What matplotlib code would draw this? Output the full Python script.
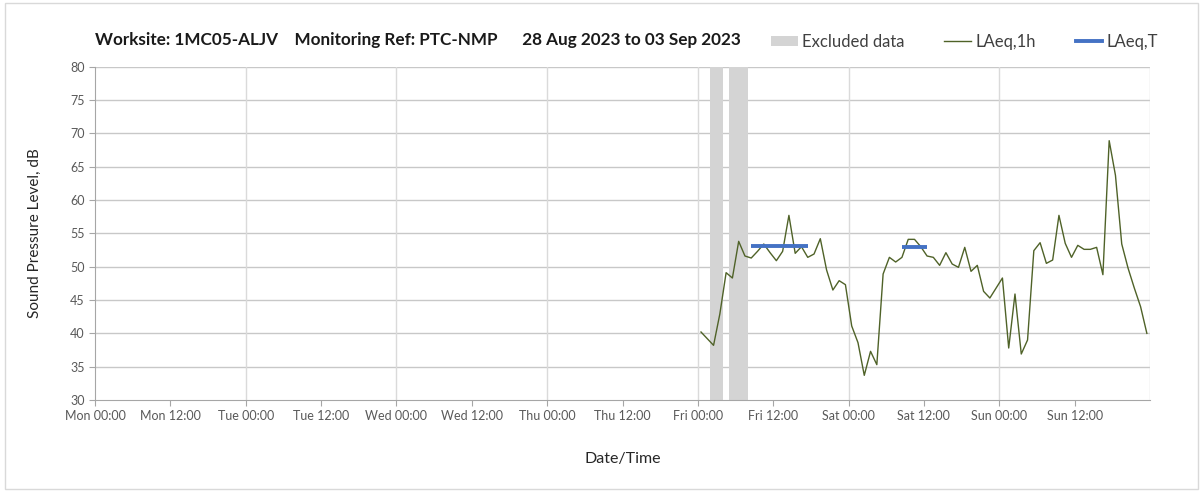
import numpy as np
import matplotlib.pyplot as plt
from matplotlib.patches import Patch, Rectangle
from matplotlib.lines import Line2D

plt.rcParams["font.family"] = ["Lato", "DejaVu Sans"]

# ============================================================
# DATA  (hours counted from Mon 00:00)
# ============================================================
day_names = ["Mon", "Tue", "Wed", "Thu", "Fri", "Sat", "Sun"]
tick_hours = np.arange(0, 168, 12)
tick_labels = [f"{day_names[h // 24]} {h % 24:02d}:00" for h in tick_hours]

# hourly LAeq,1h, Fri 00:30 .. Sun 23:30
laeq_1h_start = 96.5
laeq_1h = [
    40.2, 39.2, 38.2, 42.9, 49.1, 48.3, 53.8, 51.6, 51.3, 52.3, 53.4, 52.1,
    50.9, 52.3, 57.7, 52.0, 53.0, 51.4, 51.9, 54.2, 49.5, 46.5, 47.9, 47.3,
    41.1, 38.6, 33.7, 37.3, 35.3, 48.9, 51.4, 50.7, 51.4, 54.1, 54.1, 53.0,
    51.6, 51.4, 50.2, 52.1, 50.4, 49.9, 52.9, 49.3, 50.2, 46.3, 45.3, 46.8,
    48.3, 37.8, 45.9, 36.9, 39.0, 52.4, 53.6, 50.5, 51.0, 57.7, 53.5, 51.4,
    53.2, 52.6, 52.6, 52.9, 48.8, 68.9, 63.7, 53.4, 49.8, 46.8, 44.0, 40.0,
]
laeq_1h_t = laeq_1h_start + np.arange(len(laeq_1h))

# LAeq,T periods: (start, end, level)
laeq_T_start = [104.5, 128.5]
laeq_T_end = [113.5, 132.5]
laeq_T_level = [53.1, 52.9]

# excluded periods
excl_start = [98, 101]
excl_end = [100, 104]

# ============================================================
# PLOT
# ============================================================
fig = plt.figure(figsize=(12.03, 4.92), dpi=100)
ax = fig.add_axes([95 / 1203, 1 - 400 / 492, (1150 - 95) / 1203, (400 - 66.7) / 492])

for s, e in zip(excl_start, excl_end):
    ax.axvspan(s, e, color="#d4d4d4", lw=0, zorder=1)

ax.plot(laeq_1h_t, laeq_1h, color="#4f6228", lw=1.0, zorder=3)
for s, e, v in zip(laeq_T_start, laeq_T_end, laeq_T_level):
    ax.plot([s, e], [v, v], color="#4472c4", lw=2.8, solid_capstyle="butt", zorder=4)

ax.set_xlim(0, 168)
ax.set_ylim(30, 80)
ax.set_xticks(tick_hours)
ax.set_xticklabels(tick_labels)
ax.set_yticks(np.arange(30, 81, 5))
ax.tick_params(axis="both", labelsize=9, colors="#595959", length=4, color="#a6a6a6")

# gridlines: horizontal every 5 dB, vertical each midnight
for y in np.arange(35, 81, 5):
    ax.axhline(y, color="#c8c8c8", lw=1.0, zorder=0)
for x in np.arange(24, 169, 24):
    ax.axvline(x, color="#dadada", lw=1.0, zorder=0)

for side in ["top", "right"]:
    ax.spines[side].set_visible(False)
for side in ["left", "bottom"]:
    ax.spines[side].set_color("#a6a6a6")

ax.set_ylabel("Sound Pressure Level, dB", fontsize=11, color="#262626", labelpad=20)
ax.set_xlabel("Date/Time", fontsize=11.5, color="#262626", labelpad=21)

fig.text(95 / 1203, 1 - 40 / 492,
         "Worksite: 1MC05-ALJV    Monitoring Ref: PTC-NMP      28 Aug 2023 to 03 Sep 2023",
         fontsize=12.3, fontweight="bold", ha="left", va="center", color="#1a1a1a")

handles = [
    Patch(facecolor="#d4d4d4", edgecolor="none"),
    Line2D([], [], color="#4f6228", lw=1.0),
    Line2D([], [], color="#4472c4", lw=2.8),
]
fig.legend(handles, ["Excluded data", "LAeq,1h", "LAeq,T"], ncol=3,
           loc="center right", bbox_to_anchor=(1173 / 1203, 1 - 42 / 492),
           frameon=False, fontsize=12, handlelength=1.6, handleheight=0.6,
           handletextpad=0.25, columnspacing=2.4, labelcolor="#404040")

fig.add_artist(Rectangle((5 / 1203, 3 / 492), 1193 / 1203, 486 / 492,
                         transform=fig.transFigure, fill=False,
                         edgecolor="#d9d9d9", lw=1.0))

plt.savefig("out.png", dpi=100)
